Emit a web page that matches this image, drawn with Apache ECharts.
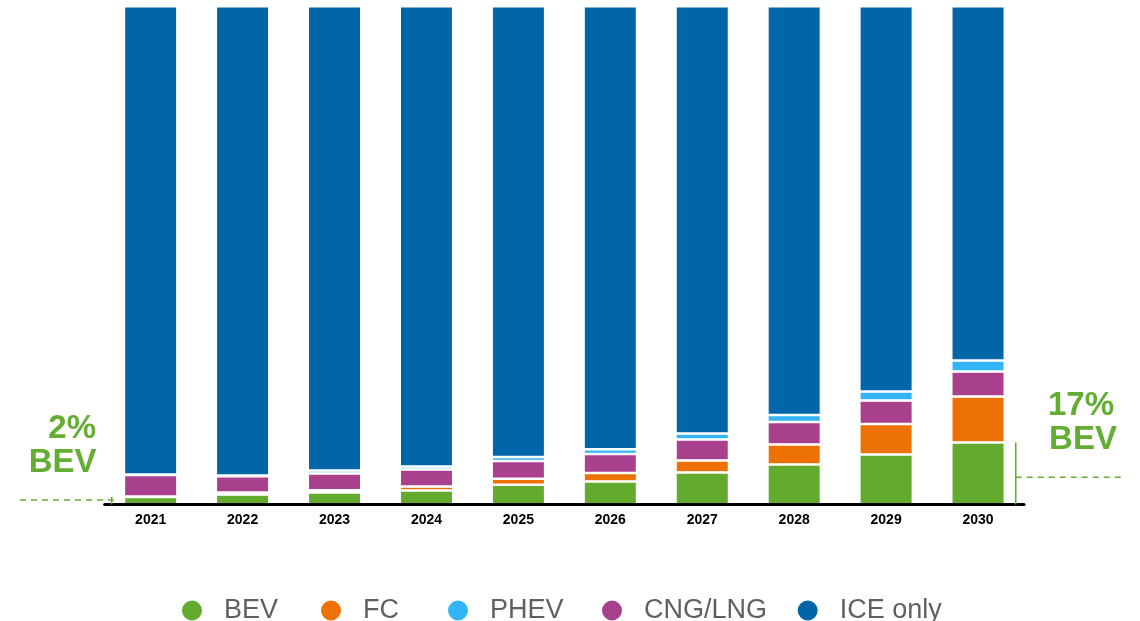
<!DOCTYPE html>
<html>
<head>
<meta charset="utf-8">
<script src="https://cdn.jsdelivr.net/npm/echarts@6/dist/echarts.min.js"></script>
<style>
html,body{margin:0;padding:0;background:#fff;}
#chart{width:1140px;height:621px;}
</style>
</head>
<body>
<div id="chart"></div>
<script>
// Data: share of bar height (%)
var years = ['2021','2022','2023','2024','2025','2026','2027','2028','2029','2030'];
var bev  = [1.5, 2.0, 2.42, 2.82, 3.96, 4.62, 6.43, 8.03, 10.04, 12.45];
var fc   = [0.1, 0.4, 0.44, 0.79, 1.21, 1.69, 2.41, 4.02, 6.10, 9.22];
var cng  = [4.32, 3.26, 3.37, 3.42, 3.55, 3.81, 4.21, 4.49, 4.73, 5.02];
var phev = [0.1, 0.16, 0.58, 0.58, 0.82, 0.96, 1.18, 1.42, 1.79, 2.19];
var ice  = [93.98, 94.18, 93.19, 92.39, 90.46, 88.92, 85.77, 82.04, 77.34, 71.12];
var leftNote = ['2%', 'BEV'];
var rightNote = ['17%', 'BEV'];

var COLORS = {BEV:'#62ab2f', FC:'#ee7203', PHEV:'#33b4f7', CNG:'#a9408e', ICE:'#0066a8'};
var GREEN = '#64ad33';
var FONT = '"Liberation Sans", Arial, sans-serif';

var chart = echarts.init(document.getElementById('chart'));

function barSeries(name, data, color) {
  return {
    name: name, type: 'bar', stack: 'total', data: data,
    barWidth: 53.5,
    itemStyle: {color: color, borderColor: '#ffffff', borderWidth: 1.25},
    emphasis: {disabled: true},
    animation: false
  };
}
function legendAt(name, left) {
  return {
    data: [name], left: left, top: 597, padding: 0,
    icon: 'circle', itemWidth: 22, itemHeight: 22,
    selectedMode: false,
    textStyle: {fontSize: 27, color: '#606060', fontFamily: FONT, padding: [0, 0, 0, 16]}
  };
}

chart.setOption({
  animation: false,
  backgroundColor: '#ffffff',
  grid: {left: 104.7, right: 116, top: 6.25, bottom: 116.5},
  legend: [
    legendAt('BEV', 180),
    legendAt('FC', 319),
    legendAt('PHEV', 446),
    legendAt('CNG/LNG', 600),
    legendAt('ICE only', 795.7)
  ],
  xAxis: {
    type: 'category', data: years, z: 10,
    axisLine: {lineStyle: {color: '#000', width: 3}},
    axisTick: {show: false},
    axisLabel: {fontSize: 14, fontWeight: 'bold', color: '#000', fontFamily: FONT, margin: 9}
  },
  yAxis: {type: 'value', min: 0, max: 100, show: false, splitLine: {show: false}},
  series: [
    barSeries('BEV', bev, COLORS.BEV),
    barSeries('FC', fc, COLORS.FC),
    barSeries('CNG/LNG', cng, COLORS.CNG),
    barSeries('PHEV', phev, COLORS.PHEV),
    barSeries('ICE only', ice, COLORS.ICE)
  ]
});

// Annotations derived from the axes
var n = years.length;
var p0 = chart.convertToPixel({xAxisIndex: 0, yAxisIndex: 0}, [years[0], 0]);
var p0t = chart.convertToPixel({xAxisIndex: 0, yAxisIndex: 0}, [years[0], bev[0]]);
var p1 = chart.convertToPixel({xAxisIndex: 0, yAxisIndex: 0}, [years[n-1], 0]);
var p1t = chart.convertToPixel({xAxisIndex: 0, yAxisIndex: 0}, [years[n-1], bev[n-1]]);
var xL = p0[0] - 39, xR = p1[0] + 37.7;
var lineStyle = {stroke: GREEN, lineWidth: 1.6};
var dashStyle = {stroke: GREEN, lineWidth: 1.6, lineDash: [6, 5]};
var txt = function (x, y, t, align) {
  return {type: 'text', silent: true, z: 20,
    style: {x: x, y: y, text: t, fill: GREEN, font: 'bold 33px ' + FONT, align: align, verticalAlign: 'middle'}};
};
chart.setOption({
  graphic: [
    {type: 'line', silent: true, z: 20, shape: {x1: xL, y1: p0[1], x2: xL, y2: p0t[1]}, style: lineStyle},
    {type: 'line', silent: true, z: 20, shape: {x1: 20, y1: 500, x2: xL + 2, y2: 500}, style: dashStyle},
    {type: 'line', silent: true, z: 20, shape: {x1: xR, y1: p1[1], x2: xR, y2: p1t[1]}, style: lineStyle},
    {type: 'line', silent: true, z: 20, shape: {x1: xR, y1: 477.3, x2: 1122, y2: 477.3}, style: dashStyle},
    txt(96, 428.5, leftNote[0], 'right'),
    txt(96.5, 463, leftNote[1], 'right'),
    txt(1081, 405.5, rightNote[0], 'center'),
    txt(1083, 439.5, rightNote[1], 'center')
  ]
});
</script>
</body>
</html>
